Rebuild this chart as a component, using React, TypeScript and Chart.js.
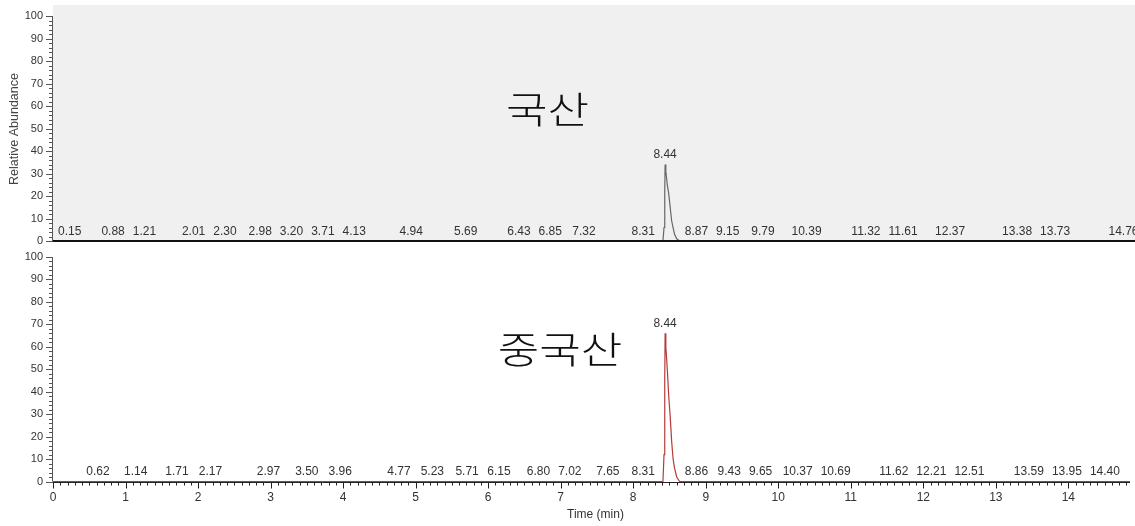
import React, { useEffect, useRef } from 'react';
import { Chart, registerables } from 'chart.js';

Chart.register(...registerables);

// ---------- data ----------
const X_MIN = 0;
const X_MAX = 14.85;
const xTickValues = [0, 1, 2, 3, 4, 5, 6, 7, 8, 9, 10, 11, 12, 13, 14];
const yTickValues = [0, 10, 20, 30, 40, 50, 60, 70, 80, 90, 100];

// retention time (min) of trace points
const traceTime = [0, 8.41, 8.425, 8.435, 8.44, 8.45, 8.47, 8.49, 8.51, 8.53, 8.55, 8.57, 8.6, 8.64, 14.85];
// relative abundance – domestic (국산)
const domesticAbund = [0, 0, 6, 22, 34, 31, 25, 21, 15, 9, 6, 3, 1, 0, 0];
// relative abundance – Chinese (중국산)
const chineseAbund = [0, 0, 12, 45, 66, 60, 50, 38, 29, 18, 10, 6, 2, 0, 0];

// peak annotation labels (retention times)
const domesticPeaks = [0.15, 0.88, 1.21, 2.01, 2.3, 2.98, 3.2, 3.71, 4.13, 4.94, 5.69, 6.43, 6.85, 7.32, 8.31, 8.44, 8.87, 9.15, 9.79, 10.39, 11.32, 11.61, 12.37, 13.38, 13.73, 14.76];
const chinesePeaks = [0.62, 1.14, 1.71, 2.17, 2.97, 3.5, 3.96, 4.77, 5.23, 5.71, 6.15, 6.8, 7.02, 7.65, 8.31, 8.44, 8.86, 9.43, 9.65, 10.37, 10.69, 11.62, 12.21, 12.51, 13.59, 13.95, 14.4];

const panelNames = ['국산', '중국산'];
const yAxisTitle = 'Relative Abundance';
const xAxisTitle = 'Time (min)';

// ---------- styling ----------
const FONT = '"Liberation Sans", Arial, sans-serif';
const KFONT = '"Noto Sans CJK KR", sans-serif';
const TEXT = '#333';

function interp(t: number, xs: number[], ys: number[]) {
  for (let i = 0; i < xs.length - 1; i++) {
    if (t >= xs[i] && t <= xs[i + 1]) {
      const f = xs[i + 1] === xs[i] ? 0 : (t - xs[i]) / (xs[i + 1] - xs[i]);
      return ys[i] + f * (ys[i + 1] - ys[i]);
    }
  }
  return 0;
}

type PanelOpts = {
  abund: number[];
  peaks: number[];
  color: string;
  gray: boolean;
  showX: boolean;
  yMax: number;
  padTop: number;
  padBottom: number;
  name: string;
  nameAt: [number, number];
  yTitle: boolean;
};

// spread baseline labels so they don't collide with each other, the axis or the main peak
function spreadLabels(items: { c: number; w: number; fixed: boolean }[], gap: number) {
  for (let iter = 0; iter < 200; iter++) {
    let moved = false;
    items.sort((a, b) => a.c - b.c);
    for (let i = 0; i < items.length - 1; i++) {
      const A = items[i];
      const B = items[i + 1];
      const need = A.w / 2 + B.w / 2 + gap;
      const d = B.c - A.c;
      if (d < need - 0.01) {
        const push = need - d;
        if (A.fixed && !B.fixed) B.c += push;
        else if (!A.fixed && B.fixed) A.c -= push;
        else if (!A.fixed && !B.fixed) {
          A.c -= push / 2;
          B.c += push / 2;
        }
        moved = true;
      }
    }
    if (!moved) break;
  }
}

function makeConfig(p: PanelOpts): any {
  const decor = {
    id: 'decor',
    beforeDatasetsDraw(chart: any) {
      const { ctx, chartArea: a, scales } = chart;
      const x = scales.x;
      const y = scales.y;
      ctx.save();
      if (p.gray) {
        ctx.fillStyle = '#f0f0f0';
        ctx.fillRect(a.left, a.top, chart.width - a.left, a.bottom - a.top);
      }
      // y axis line + ticks
      ctx.strokeStyle = '#555';
      ctx.lineWidth = 1;
      ctx.beginPath();
      const ax = a.left - 0.5;
      ctx.moveTo(ax, y.getPixelForValue(0));
      ctx.lineTo(ax, y.getPixelForValue(100));
      for (let v = 0; v <= 100; v += 2) {
        const py = Math.round(y.getPixelForValue(v)) + 0.5;
        const len = v % 10 === 0 ? 7 : 4;
        ctx.moveTo(a.left - len, py);
        ctx.lineTo(a.left, py);
      }
      ctx.stroke();
      if (p.showX) {
        const by = a.bottom;
        ctx.strokeStyle = '#222';
        ctx.lineWidth = 1;
        ctx.beginPath();
        ctx.moveTo(a.left, by + 1);
        ctx.lineTo(a.right, by + 1);
        for (let i = 0; i <= Math.floor(X_MAX * 10); i++) {
          const v = i / 10;
          const px = Math.round(x.getPixelForValue(v)) + 0.5;
          const len = i % 10 === 0 ? 6 : 3;
          ctx.moveTo(px, by + 1);
          ctx.lineTo(px, by + 1 + len);
        }
        ctx.stroke();
      }
      ctx.restore();
    },
    afterDatasetsDraw(chart: any) {
      const { ctx, chartArea: a, scales } = chart;
      const x = scales.x;
      const y = scales.y;
      ctx.save();
      if (!p.showX) {
        ctx.strokeStyle = '#111';
        ctx.lineWidth = 2;
        ctx.beginPath();
        ctx.moveTo(a.left, a.bottom);
        ctx.lineTo(chart.width, a.bottom);
        ctx.stroke();
      }
      // peak labels
      ctx.fillStyle = TEXT;
      ctx.font = `12px ${FONT}`;
      ctx.textAlign = 'center';
      ctx.textBaseline = 'middle';
      const items: { c: number; w: number; fixed: boolean; t: number; v: number }[] = [];
      p.peaks.forEach((t) => {
        const v = interp(t, traceTime, p.abund);
        if (v > 5) {
          ctx.fillText(t.toFixed(2), x.getPixelForValue(t), y.getPixelForValue(v) - 9.5);
        } else {
          items.push({ c: x.getPixelForValue(t), w: ctx.measureText(t.toFixed(2)).width, fixed: false, t, v });
        }
      });
      // the main peak and the y axis act as obstacles
      const pk0 = x.getPixelForValue(traceTime[1]);
      const pk1 = x.getPixelForValue(traceTime[traceTime.length - 3]);
      items.push({ c: (pk0 + pk1) / 2, w: pk1 - pk0, fixed: true, t: -1, v: 0 });
      items.push({ c: a.left - 4, w: 2, fixed: true, t: -1, v: 0 });
      spreadLabels(items, 8);
      items.forEach((it) => {
        if (it.fixed) return;
        ctx.fillText(it.t.toFixed(2), it.c, y.getPixelForValue(it.v) - 9.5);
      });
      // sample name
      ctx.fillStyle = '#111';
      ctx.font = `300 37px ${KFONT}`;
      ctx.save();
      ctx.translate(x.getPixelForValue(p.nameAt[0]), y.getPixelForValue(p.nameAt[1]));
      ctx.scale(1.22, 1);
      ctx.fillText(p.name, 0, 0);
      ctx.restore();
      if (p.yTitle) {
        ctx.fillStyle = '#444';
        ctx.font = `12.5px ${FONT}`;
        ctx.save();
        ctx.translate(15, 129);
        ctx.rotate(-Math.PI / 2);
        ctx.fillText(yAxisTitle, 0, 0);
        ctx.restore();
      }
      if (p.showX) {
        ctx.fillStyle = TEXT;
        ctx.font = `12px ${FONT}`;
        ctx.fillText(xAxisTitle, (a.left + a.right) / 2 + 4, 265);
      }
      ctx.restore();
    },
  };

  return {
    type: 'line',
    data: {
      datasets: [
        {
          data: traceTime.map((t, i) => ({ x: t, y: p.abund[i] })),
          borderColor: p.color,
          borderWidth: 1.2,
          pointRadius: 0,
          tension: 0,
          fill: false,
          clip: false,
        },
      ],
    },
    options: {
      animation: false,
      responsive: false,
      events: [],
      layout: { autoPadding: false, padding: { top: p.padTop, right: 5, bottom: p.padBottom, left: 0 } },
      plugins: { legend: { display: false }, tooltip: { enabled: false } },
      scales: {
        x: {
          type: 'linear',
          min: X_MIN,
          max: X_MAX,
          display: p.showX,
          grid: { display: false, drawTicks: false },
          border: { display: false },
          afterBuildTicks: (s: any) => {
            s.ticks = xTickValues.map((v) => ({ value: v }));
          },
          afterFit: (s: any) => {
            s.height = p.showX ? 44.5 : 0;
            s.paddingLeft = 0;
            s.paddingRight = 0;
            s.paddingTop = 0;
            s.paddingBottom = 0;
          },
          ticks: {
            padding: 9,
            color: TEXT,
            font: { family: FONT, size: 12 },
            callback: (v: any) => String(v),
          },
        },
        y: {
          type: 'linear',
          min: 0,
          max: p.yMax,
          grid: { display: false, drawTicks: false },
          border: { display: false },
          afterBuildTicks: (s: any) => {
            s.ticks = yTickValues.map((v) => ({ value: v }));
          },
          afterFit: (s: any) => {
            s.width = 53;
            s.paddingLeft = 0;
            s.paddingRight = 0;
            s.paddingTop = 0;
            s.paddingBottom = 0;
          },
          ticks: {
            padding: 10,
            color: TEXT,
            font: { family: FONT, size: 11 },
            callback: (v: any) => String(v),
          },
        },
      },
    },
    plugins: [decor],
  };
}

export default function App() {
  const topRef = useRef<HTMLCanvasElement>(null);
  const botRef = useRef<HTMLCanvasElement>(null);

  useEffect(() => {
    const c1 = new Chart(
      topRef.current as HTMLCanvasElement,
      makeConfig({
        abund: domesticAbund,
        peaks: domesticPeaks,
        color: '#666',
        gray: true,
        showX: false,
        yMax: 105,
        padTop: 5,
        padBottom: 9,
        name: panelNames[0],
        nameAt: [6.82, 58.2],
        yTitle: true,
      })
    );
    const c2 = new Chart(
      botRef.current as HTMLCanvasElement,
      makeConfig({
        abund: chineseAbund,
        peaks: chinesePeaks,
        color: '#b53a3a',
        gray: false,
        showX: true,
        yMax: 100,
        padTop: 7,
        padBottom: 0,
        name: panelNames[1],
        nameAt: [6.99, 58.6],
        yTitle: false,
      })
    );
    return () => {
      c1.destroy();
      c2.destroy();
    };
  }, []);

  return (
    <div style={{ position: 'fixed', left: 0, top: 0, width: 1135, height: 526, background: '#fff' }}>
      <canvas ref={topRef} width={1135} height={250} style={{ position: 'absolute', left: 0, top: 0 }} />
      <canvas ref={botRef} width={1135} height={276} style={{ position: 'absolute', left: 0, top: 250 }} />
    </div>
  );
}
